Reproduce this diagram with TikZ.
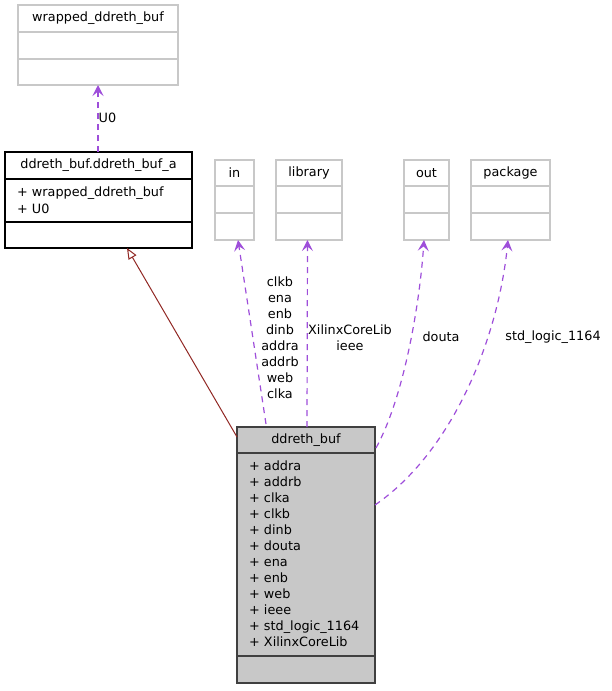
\documentclass[tikz,border=0pt]{standalone}
\usepackage{fontspec}
\setmainfont{DejaVu Sans}
\usetikzlibrary{arrows.meta,calc}
\definecolor{edgepurple}{RGB}{158,78,218}
\definecolor{inhred}{RGB}{145,40,36}
\definecolor{boxgray}{RGB}{200,200,200}
\definecolor{mainfill}{RGB}{200,200,200}
\definecolor{mainline}{RGB}{64,64,64}
\begin{document}
\begin{tikzpicture}[x=1pt, y=-1pt,
  every node/.style={font=\fontsize{12.8}{16}\selectfont, inner sep=0pt},
  box/.style={draw=boxgray, line width=1.1pt, anchor=north west, outer sep=0pt},
  sep/.style={boxgray, line width=1.1pt},
  usage/.style={edgepurple, line width=1.2pt, dash pattern=on 6pt off 5pt,
    -{Stealth[length=11pt, width=11pt, inset=4.5pt]}},
  inherit/.style={inhred, line width=1pt, -{Triangle[open, length=11pt, width=9pt, fill=white]}}]
\useasboundingbox (0,0) rectangle (611,691);

\node[box, minimum width=160pt, minimum height=80pt] (wrap) at (18,5) {};
\draw[sep] (wrap.west |- 0,32) -- (wrap.east |- 0,32);
\draw[sep] (wrap.west |- 0,59) -- (wrap.east |- 0,59);
\node (wraptitle) at (98,18.5) {wrapped\_ddreth\_buf};

\node[box, draw=black, minimum width=187pt, minimum height=96pt] (bufa) at (5,152) {};
\draw[black, line width=1.1pt] (bufa.west |- 0,179) -- (bufa.east |- 0,179);
\draw[black, line width=1.1pt] (bufa.west |- 0,222) -- (bufa.east |- 0,222);
\node (bufatitle) at (98.5,165.5) {ddreth\_buf.ddreth\_buf\_a};
\node[anchor=base west] (bufaattr1) at (17,196) {+ wrapped\_ddreth\_buf};
\node[anchor=base west] (bufaattr2) at (17,213) {+ U0};

\foreach \name/\lab/\xa/\bw in {in/in/215/39, library/library/276/66, out/out/404/45, package/package/471/79} {
  \node[box, minimum width=\bw pt, minimum height=80pt] (\name) at (\xa,160) {};
  \draw[sep] (\name.west |- 0,186) -- (\name.east |- 0,186);
  \draw[sep] (\name.west |- 0,213) -- (\name.east |- 0,213);
  \node (\name title) at ($(\name.north)+(0,13)$) {\lab};
}

\node[box, draw=mainline, fill=mainfill, minimum width=138pt, minimum height=256pt] (main) at (237,427) {};
\draw[mainline, line width=1.1pt] (main.west |- 0,453) -- (main.east |- 0,453);
\draw[mainline, line width=1.1pt] (main.west |- 0,656) -- (main.east |- 0,656);
\node (maintitle) at (306,440) {ddreth\_buf};
\foreach \a [count=\i] in {addra, addrb, clka, clkb, dinb, douta, ena, enb, web, ieee, std\_logic\_1164, XilinxCoreLib}
  \node[anchor=base west] (mainattr\i) at (249,454.5+16*\i) {+ \a};

\draw[usage] (bufa.north -| wrap.south) -- (wrap.south);
\node[anchor=west] (u0lab) at (98.5,118) {U0};

\draw[inherit] ($(main.north west)+(0,10)$) -- ($(bufa.south west)+(122,0)$);

\draw[usage] ($(main.north west)+(29,-3)$) -- ($(in.south)+(3.5,0)$);
\node[align=center] (inlab) at (280,337.5) {clkb\\ena\\enb\\dinb\\addra\\addrb\\web\\clka};

\draw[usage] ($(main.north west)+(70,0)$) -- ($(library.south)+(-1.5,0)$);
\node[align=center] (liblab) at (350,337.5) {XilinxCoreLib\\ieee};

\draw[usage] ($(main.north east)+(1,21)$) .. controls (405,395) and (420,300) .. ($(out.south)+(-2.5,0)$);
\node (outlab) at (441,337) {douta};

\draw[usage] ($(main.north east)+(0,78)$) .. controls (452,452) and (498,340) .. ($(package.south)+(-2.5,0)$);
\node (packlab) at (553,337) {std\_logic\_1164};
\end{tikzpicture}
\end{document}
